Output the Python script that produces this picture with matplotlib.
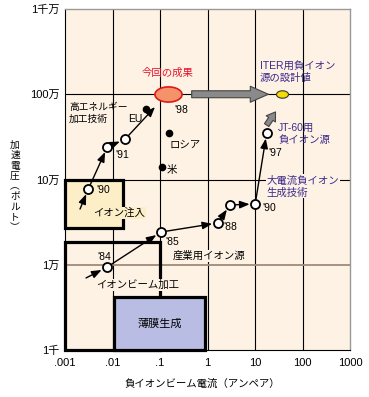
import matplotlib
matplotlib.use('Agg')
import matplotlib.pyplot as plt
from matplotlib.patches import Rectangle
from matplotlib.path import Path
import numpy as np

plt.rcParams['font.family'] = ['Liberation Sans', 'Noto Sans CJK JP']

# ---------------- data ----------------
x_ticks = [1e-3, 1e-2, 1e-1, 1, 10, 100, 1000]
x_ticklabels = ['.001', '.01', '.1', '1', '10', '100', '1000']
y_ticks = [1e3, 1e4, 1e5, 1e6, 1e7]
y_ticklabels = ['1千', '1万', '10万', '100万', '1千万']
y_grid_colors = ['none', '#a08a7a', 'black', 'black', 'none']

# industrial -> high-current negative ion track (A, V)
track1_x = [0.0075, 0.105, 1.64, 2.98, 10.1, 17.6]
track1_y = [9.3e3, 2.42e4, 3.09e4, 5.02e4, 5.16e4, 3.51e5]
track1_start = (0.00277, 7.0e3)

# high-energy track
track2_x = [0.0031, 0.0078, 0.0183]
track2_y = [7.74e4, 2.41e5, 2.96e5]
track2_start = (0.00207, 4.5e4)
track2_end = (0.0785, 7.08e5)

# other labs
labs = ['EU', 'ロシア', '米']
labs_x = [0.05, 0.157, 0.109]
labs_y = [6.7e5, 3.54e5, 1.41e5]

# this result and ITER design value
result_xy = (0.15, 1.0e6)
iter_xy = (37.0, 1.0e6)
jt60_arrow = [(17.6, 4.35e5), (27.0, 6.2e5)]
big_arrow_x = [0.465, 19.1]

# application regions (x0, x1, y0, y1)
box_implant = (1e-3, 0.0166, 2.7e4, 1e5)
box_beam = (1e-3, 0.1, 1e3, 1.87e4)
box_film = (0.0109, 0.885, 1e3, 4.22e3)

BG = '#fef2e4'
PURPLE = '#3c2a8c'
RED = '#e8102a'

fig = plt.figure(figsize=(3.69, 3.97), dpi=100)
ax = fig.add_axes([65/369, 1-350/397, 285/369, 341/397])
ax.set_xscale('log')
ax.set_yscale('log')
ax.set_xlim(1e-3, 1e3)
ax.set_ylim(1e3, 1e7)
ax.set_facecolor(BG)

ax.set_xticks(x_ticks)
ax.set_xticklabels(x_ticklabels, fontsize=8)
ax.set_yticks(y_ticks)
ax.set_yticklabels(y_ticklabels, fontsize=8)
ax.minorticks_off()
ax.tick_params(length=0, pad=4)
ax.tick_params(axis='x', pad=6)

for xv in x_ticks[1:-1]:
    ax.axvline(xv, color='black', lw=0.8, zorder=1)
for yv, c in zip(y_ticks, y_grid_colors):
    if c != 'none':
        ax.axhline(yv, color=c, lw=1.3 if c != 'black' else 0.8, zorder=1)

for s in ['top', 'right']:
    ax.spines[s].set_color('#999999')
    ax.spines[s].set_linewidth(1.0)
for s in ['left', 'bottom']:
    ax.spines[s].set_color('black')
    ax.spines[s].set_linewidth(0.8)

# boxes
def box(b, fc, z):
    r = Rectangle((b[0], b[2]), b[1]-b[0], b[3]-b[2], fc=fc, ec='black',
                  lw=2.3, zorder=z, clip_on=False)
    ax.add_patch(r)

box(box_beam, 'none', 2)
box(box_implant, '#fcefc8', 2)
box(box_film, '#b9bde3', 2)

ax.text(np.sqrt(box_film[0]*box_film[1]), np.sqrt(box_film[2]*box_film[3]), '薄膜生成',
        ha='center', va='center', fontsize=8, zorder=6)
ax.text(0.0344, 5.78e3, 'イオンビーム加工', ha='center', va='center', fontsize=7.5, zorder=6,
        bbox=dict(boxstyle='square,pad=0.1', fc=BG, ec='none'))
ax.text(3.88e-3, 4.05e4, 'イオン注入', ha='left', va='center', fontsize=7.5, zorder=6,
        bbox=dict(boxstyle='square,pad=0.1', fc='#fcefc8', ec='none'))

# arrows along tracks
ap = dict(arrowstyle='-|>,head_length=0.65,head_width=0.25', color='black', lw=1.0,
          mutation_scale=9, shrinkA=3.5, shrinkB=4)

def chain(xs, ys, start, end=None):
    pts = [start] + list(zip(xs, ys))
    for i in range(len(pts)-1):
        a = dict(ap)
        if i == 0:
            a['shrinkA'] = 0
        ax.annotate('', xy=pts[i+1], xytext=pts[i], arrowprops=a, zorder=4)
    if end is not None:
        a = dict(ap)
        a['shrinkB'] = 0
        ax.annotate('', xy=end, xytext=pts[-1], arrowprops=a, zorder=4)

chain(track1_x, track1_y, track1_start)
chain(track2_x, track2_y, track2_start, track2_end)

ax.plot(track1_x, track1_y, 'o', ms=6.5, mfc='white', mec='black', mew=1.3, zorder=5, ls='none')
ax.plot(track2_x, track2_y, 'o', ms=6.5, mfc='white', mec='black', mew=1.3, zorder=5, ls='none')
ax.plot(labs_x, labs_y, 'o', ms=4.5, color='black', zorder=5, ls='none')

# big grey arrow
ax.annotate('', xy=(big_arrow_x[1], result_xy[1]), xytext=(big_arrow_x[0], result_xy[1]),
            arrowprops=dict(arrowstyle='simple,head_length=1.3,head_width=1.15,tail_width=0.5',
                            fc='#8a8a8a', ec='#444444', lw=0.8, mutation_scale=10,
                            shrinkA=0, shrinkB=0), zorder=4)
ax.annotate('', xy=jt60_arrow[1], xytext=jt60_arrow[0],
            arrowprops=dict(arrowstyle='simple,head_length=0.6,head_width=0.8,tail_width=0.38',
                            fc='#8a8a8a', ec='#444444', lw=0.8, mutation_scale=10,
                            shrinkA=0, shrinkB=0), zorder=4)

t = np.linspace(0, 2*np.pi, 73)
ell1 = Path(np.column_stack([np.cos(t), 0.56*np.sin(t)]))
ell2 = Path(np.column_stack([np.cos(t), 0.62*np.sin(t)]))
ax.plot([result_xy[0]], [result_xy[1]], marker=ell1, ms=19.5, mfc='#f4926a', mec='#e01818',
        mew=1.2, zorder=6, ls='none')
ax.plot([iter_xy[0]], [iter_xy[1]], marker=ell2, ms=8.6, mfc='#f6dc00', mec='#333333',
        mew=0.8, zorder=6, ls='none')

# texts
fs = 7.5
ax.text(0.147, 1.77e6, '今回の成果', color=RED, ha='center', va='center', fontsize=fs, zorder=6)
ax.text(12.7, 1.85e6, 'ITER用負イオン\n源の設計値', color=PURPLE, ha='left', va='center',
        fontsize=fs, linespacing=1.25, zorder=6)
ax.text(30.5, 3.42e5, 'JT-60用\n負イオン源', color=PURPLE, ha='left', va='center',
        fontsize=fs, linespacing=1.2, zorder=6)
ax.text(17.6, 8.28e4, '大電流負イオン\n生成技術', color=PURPLE, ha='left', va='center',
        fontsize=fs, linespacing=1.2, zorder=6,
        bbox=dict(boxstyle='square,pad=0.1', fc=BG, ec='none'))
ax.text(1.21e-3, 6.03e5, '高エネルギー\n加工技術', ha='left', va='center',
        fontsize=7.0, linespacing=1.25, zorder=6)
ax.text(0.188, 1.27e4, '産業用イオン源', ha='left', va='center', fontsize=fs, zorder=6,
        bbox=dict(boxstyle='square,pad=0.1', fc=BG, ec='none'))

year_labels = ["'84", "'85", "'88", "'90", "'97", "'90", "'91", "'98"]
year_x = [4.72e-3, 0.127, 2.12, 14.0, 18.8, 4.5e-3, 0.0113, 0.197]
year_y = [1.23e4, 1.85e4, 2.77e4, 4.63e4, 2.05e5, 7.53e4, 1.94e5, 6.53e5]
for lab, xx, yy in zip(year_labels, year_x, year_y):
    ax.text(xx, yy, lab, ha='left', va='center', fontsize=7.5, zorder=6)

lab_dx = [-3, 0, 5]
lab_dy = [-10, -12, -3]
lab_ha = ['right', 'left', 'left']
for lab, xx, yy, dx, dy, ha in zip(labs, labs_x, labs_y, lab_dx, lab_dy, lab_ha):
    ax.annotate(lab, (xx, yy), xytext=(dx, dy), textcoords='offset pixels',
                ha=ha, va='center', fontsize=fs, zorder=6)

# axis labels
fig.text(202/369, 1-384/397, '負イオンビーム電流（アンペア）', ha='center', va='center', fontsize=7.5)
ylab = '加速電圧︵ボルト︶'
for i, ch in enumerate(ylab):
    fig.text(15/369, 1-(145+i*10.3)/397, ch, ha='center', va='center', fontsize=7)

fig.savefig('out.png', dpi=100, facecolor='white')
